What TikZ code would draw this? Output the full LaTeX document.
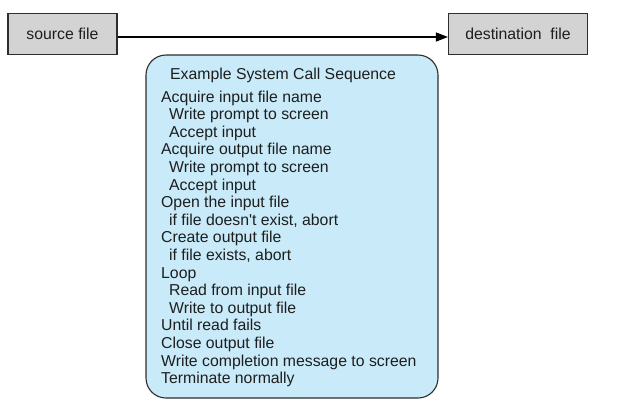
\documentclass[tikz,border=0pt]{standalone}
\usepackage{fontspec}
\setmainfont{Liberation Sans}
\usetikzlibrary{arrows.meta}
\definecolor{boxgray}{RGB}{211,211,211}
\definecolor{seqblue}{RGB}{200,234,249}
\definecolor{edge}{RGB}{45,45,45}
\definecolor{ink}{RGB}{30,30,30}
\tikzset{
  filebox/.style={draw=edge, line width=1.1bp, fill=boxgray, inner sep=0pt, text=ink,
    font=\fontsize{15.8bp}{17.6bp}\selectfont},
  seqbox/.style={draw=edge, line width=1.1bp, fill=seqblue, rounded corners=20bp},
  seqtext/.style={inner sep=0pt, text=ink, align=left, anchor=base west,
    font=\fontsize{15.8bp}{17.6bp}\selectfont},
  flow/.style={draw=black, line width=1.1bp, -{Triangle[length=12bp,width=9bp]}}
}
\begin{document}
\begin{tikzpicture}[x=1bp,y=-1bp]
\useasboundingbox (0,0) rectangle (617,402);
\node[filebox, minimum width=109bp, minimum height=41bp] (src) at (62.5,33.7) {source file};
\node[filebox, minimum width=139bp, minimum height=41bp] (dst) at (518,33.7) {destination\ \ file};
\draw[flow] ([yshift=-3.3bp]src.east) -- ([yshift=-3.3bp]dst.west);
\node[seqbox, minimum width=292bp, minimum height=343bp] (seq) at (292,226.5) {};
\node[seqtext] (title) at (170,79.6) {Example System Call Sequence};
\node[seqtext] (steps) at (161,383.7) {Acquire input file name\\
\hspace*{8bp}Write prompt to screen\\
\hspace*{8bp}Accept input\\
Acquire output file name\\
\hspace*{8bp}Write prompt to screen\\
\hspace*{8bp}Accept input\\
Open the input file\\
\hspace*{8bp}if file doesn\textquotesingle t exist, abort\\
Create output file\\
\hspace*{8bp}if file exists, abort\\
Loop\\
\hspace*{8bp}Read from input file\\
\hspace*{8bp}Write to output file\\
Until read fails\\
Close output file\\
Write completion message to screen\\
Terminate normally};
\end{tikzpicture}
\end{document}
